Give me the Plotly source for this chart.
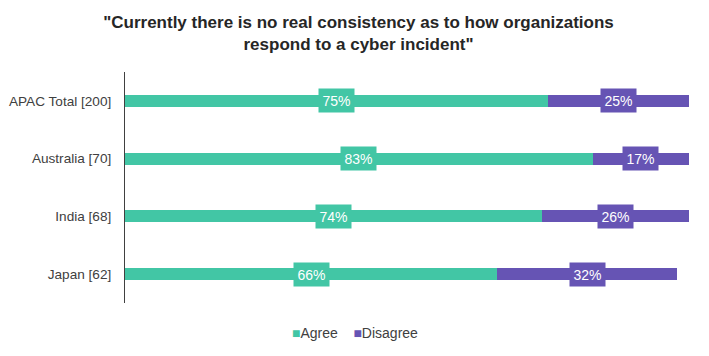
import plotly.graph_objects as go

categories = ["APAC Total [200]", "Australia [70]", "India [68]", "Japan [62]"]
agree = [75, 83, 74, 66]
disagree = [25, 17, 26, 32]
series_names = ["Agree", "Disagree"]

AGREE_C = "#42C6A5"
DIS_C = "#6654B4"
FONT = "Liberation Sans, Arial"

W, H = 701, 348          # page body has an 8px margin
L, R, T, B = 117, 9, 64, 53

fig = go.Figure()
fig.add_trace(go.Bar(y=categories, x=agree, name=series_names[0], orientation="h",
                     marker=dict(color=AGREE_C, line=dict(width=0)), width=0.21,
                     showlegend=False))
fig.add_trace(go.Bar(y=categories, x=disagree, name=series_names[1], orientation="h",
                     marker=dict(color=DIS_C, line=dict(width=0)), width=0.21,
                     showlegend=False))

for c, a, d in zip(categories, agree, disagree):
    fig.add_annotation(x=a / 2, y=c, text=f"{a}%", showarrow=False,
                       font=dict(family=FONT, size=14, color="white"),
                       bgcolor=AGREE_C, borderpad=3.5)
    fig.add_annotation(x=a + d / 2, y=c, text=f"{d}%", showarrow=False,
                       font=dict(family=FONT, size=14, color="white"),
                       bgcolor=DIS_C, borderpad=3.5)

# legend drawn as text with coloured square markers
pw, ph = W - L - R, H - T - B
legend_text = (f'<span style="color:{AGREE_C}">■</span>{series_names[0]}'
               f'&nbsp;&nbsp;&nbsp;&nbsp;<span style="color:{DIS_C}">■</span>{series_names[1]}')
fig.add_annotation(xref="paper", yref="paper", x=(346.5 - L) / pw, y=-(325 - (H - B)) / ph,
                   xanchor="center", yanchor="middle", showarrow=False, text=legend_text,
                   font=dict(family=FONT, size=14, color="#404040"))

fig.update_layout(
    barmode="stack",
    width=W, height=H,
    margin=dict(l=L, r=R, t=T, b=B, autoexpand=False),
    plot_bgcolor="white", paper_bgcolor="white",
    font=dict(family=FONT, color="#404040"),
    title=dict(text='<b>"Currently there is no real consistency as to how organizations<br>respond to a cyber incident"</b>',
               x=0.5, xanchor="center", y=1 - 20 / H, yanchor="middle",
               font=dict(size=17, color="#262626")),
    xaxis=dict(range=[0, 102], showgrid=False, zeroline=False, showticklabels=False,
               showline=False, fixedrange=True, automargin=False),
    yaxis=dict(autorange="reversed", showgrid=False, zeroline=False, showline=True,
               linecolor="#404040", linewidth=1, ticks="", ticklabelstandoff=10,
               automargin=False, tickfont=dict(size=13.6, color="#404040")),
    showlegend=False,
)

fig.write_html("out.html")
